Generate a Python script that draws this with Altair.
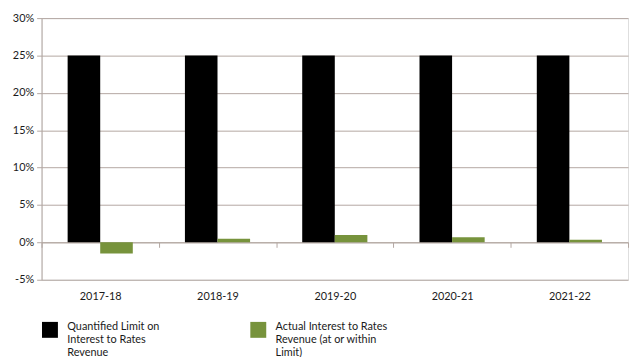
import altair as alt
import pandas as pd

years = ["2017-18", "2018-19", "2019-20", "2020-21", "2021-22"]
limit_vals = [0.25, 0.25, 0.25, 0.25, 0.25]
actual_vals = [-0.015, 0.005, 0.010, 0.007, 0.0035]
series = [
    "Quantified Limit on|Interest to Rates|Revenue",
    "Actual Interest to Rates|Revenue (at or within|Limit)",
]
colors = ["#000000", "#77933c"]
y_ticks = [-0.05, 0.0, 0.05, 0.10, 0.15, 0.20, 0.25, 0.30]

rows = []
for y, a, b in zip(years, limit_vals, actual_vals):
    rows.append({"year": y, "series": series[0], "value": a})
    rows.append({"year": y, "series": series[1], "value": b})
df = pd.DataFrame(rows)

FONT = "Lato"
GRID = "#b3a7a2"
H = 265
W = 594

chart = alt.Chart(df).mark_bar().encode(
    x=alt.X("year:N", sort=years, title=None,
            scale=alt.Scale(paddingInner=0, paddingOuter=0),
            axis=alt.Axis(orient="bottom", offset=-H * 5 / 35, tickBand="extent",
                          tickSize=5, domainColor=GRID, tickColor=GRID,
                          labelAngle=0, labelPadding=44, labelFontSize=11,
                          labelColor="#1a1a1a", labelFont=FONT)),
    xOffset=alt.XOffset("series:N", sort=series,
                        scale=alt.Scale(paddingInner=0, paddingOuter=0.8)),
    y=alt.Y("value:Q", title=None,
            scale=alt.Scale(domain=[-0.05, 0.30], nice=False, zero=False),
            axis=alt.Axis(values=y_ticks, labelExpr="round(datum.value*100) + '%'",
                          grid=True, gridColor=GRID,
                          domainColor=GRID, tickColor=GRID, tickSize=5,
                          labelPadding=3, labelFontSize=11, labelColor="#1a1a1a",
                          labelFont=FONT)),
    color=alt.Color("series:N", sort=series, title=None,
                    scale=alt.Scale(domain=series, range=colors),
                    legend=alt.Legend(orient="none", legendX=0, legendY=307,
                                      direction="horizontal", symbolType="square",
                                      symbolSize=260, symbolStrokeWidth=0,
                                      labelExpr="split(datum.label, '|')",
                                      labelBaseline="alphabetic",
                                      labelFontSize=11, labelFont=FONT,
                                      labelColor="#1a1a1a", labelLimit=200,
                                      columnPadding=91, labelOffset=9)),
).properties(
    width=W, height=H,
    autosize=alt.AutoSizeParams(type="none"),
    padding={"left": 34, "top": 8, "right": 2, "bottom": 76},
).configure_view(stroke=None).configure(background="white")

chart.save("out.html", embed_options={"renderer": "svg", "actions": False})
